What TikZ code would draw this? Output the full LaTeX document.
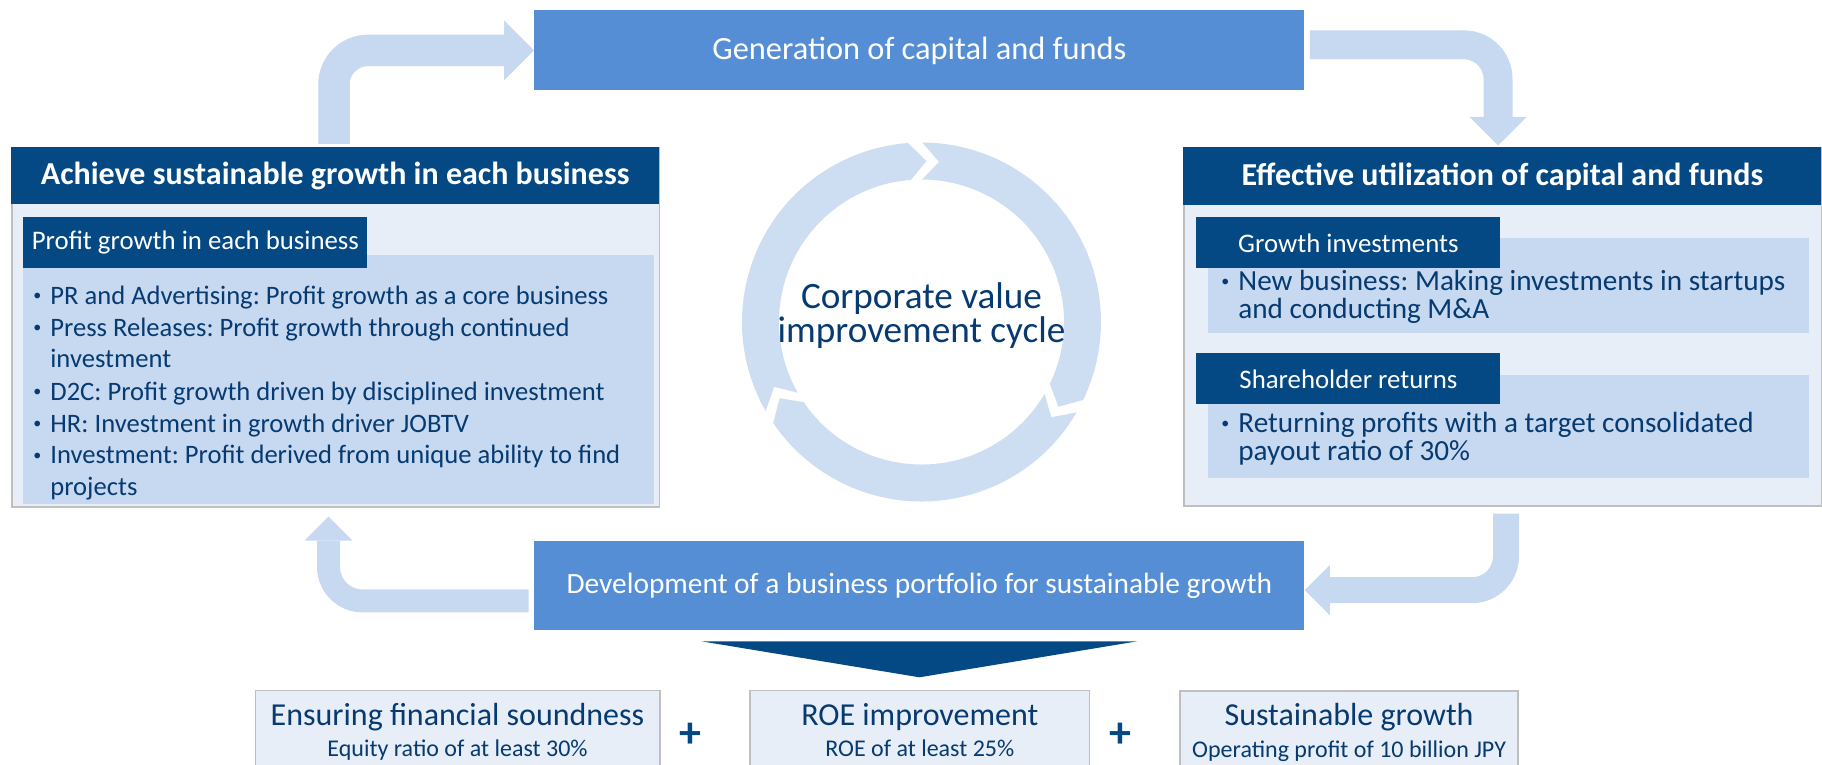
\documentclass[tikz,border=0pt]{standalone}
\usepackage{fontspec}
\setmainfont{Carlito}
\usetikzlibrary{calc,positioning}
\definecolor{midblue}{RGB}{85,142,213}
\definecolor{navy}{RGB}{4,72,132}
\definecolor{pale}{RGB}{198,217,241}
\definecolor{paler}{RGB}{231,238,247}
\definecolor{frame}{RGB}{191,191,191}
\definecolor{ringblue}{RGB}{205,222,242}
\definecolor{ink}{RGB}{6,58,112}
\hyphenpenalty=10000
\frenchspacing
\tikzset{
  stage/.style={fill=midblue,text=white,anchor=north west,inner sep=0pt,
    minimum width=385pt,minimum height=#1,font=\fontsize{14.7}{17}\selectfont},
  panel/.style={fill=paler,draw=frame,line width=0.8pt,anchor=north west,inner sep=0pt},
  banner/.style={fill=navy,text=white,anchor=north west,inner sep=0pt,
    font=\bfseries\fontsize{16}{19}\selectfont},
  tabbox/.style={fill=navy,text=white,anchor=north west,inner sep=0pt,
    minimum height=25.5pt,font=\fontsize{13.4}{16}\selectfont},
  sheet/.style={fill=pale,anchor=north west,inner sep=0pt},
  bullets/.style={text=ink,anchor=base west,inner sep=0pt,align=flush left},
  goal/.style={fill=paler,draw=frame,line width=0.8pt,anchor=north west,inner sep=0pt,
    minimum height=40pt},
  goaltitle/.style={text=ink,anchor=base,inner sep=0pt,font=\fontsize{16}{19}\selectfont},
  goalsub/.style={text=ink,anchor=base,inner sep=0pt,font=\fontsize{12}{15}\selectfont},
  plus/.style={text=navy,font=\bfseries\fontsize{22}{22}\selectfont,inner sep=0pt},
  bentflow/.style={draw=pale,line width=#1,rounded corners=17pt},
  pics/fathead/.style={code={
    \fill[pale] (0,0) -- (-#1,#1) -- (-#1,-#1) -- cycle;
  }},
}
\newcommand{\bul}[1]{\hangindent=8.5pt\hangafter=1\noindent
  \makebox[8.5pt][l]{\raisebox{0.25ex}{\fontsize{8}{8}\selectfont\textbullet}}#1\par}

\begin{document}
\begin{tikzpicture}[x=0.5pt,y=0.5pt]
  \useasboundingbox (0,0) rectangle (1822,-765);

  % cycle in the middle
  \coordinate (hub) at (921.5,-322);
  \foreach \s in {89.75,-30.25,-150.25}{
    \pgfmathsetmacro\e{\s-115.5}
    \fill[ringblue] ($(hub)+(\s:89.75pt)$) arc[start angle=\s,end angle=\e,radius=89.75pt]
      -- ($(hub)+({\e-6}:80.5pt)$) -- ($(hub)+(\e:71.25pt)$)
      arc[start angle=\e,end angle=\s,radius=71.25pt]
      -- ($(hub)+({\s-6}:80.5pt)$) -- cycle;
  }
  \node[text=ink,align=center,font=\fontsize{18.6}{17}\selectfont] (core) at ($(hub)+(0,6)$)
    {Corporate value\\improvement cycle};

  % top and bottom stages
  \node[stage=40pt,font=\fontsize{16.2}{19}\selectfont] (gen) at (534,-10) {Generation of capital and funds};
  \node[stage=44.25pt] (dev) at (534,-541) {Development of a business portfolio for sustainable growth};

  % left panel
  \node[panel,minimum width=323.75pt,minimum height=179.5pt] (left) at (11,-147) {};
  \node[banner,minimum width=323.75pt,minimum height=28.5pt] (lefthead) at (left.north west)
    {Achieve sustainable growth in each business};
  \node[sheet,minimum width=315.5pt,minimum height=124.5pt] (leftsheet) at (23,-255) {};
  \node[tabbox,minimum width=172pt] (lefttab) at (23,-217) {Profit growth in each business};
  \node[bullets,text width=306pt,font=\fontsize{13.3}{16}\selectfont] (leftlist) at (33,-304) {%
    \bul{PR and Advertising: Profit growth as a core business}
    \bul{Press Releases: Profit growth through continued investment}
    \bul{D2C: Profit growth driven by disciplined investment}
    \bul{HR: Investment in growth driver JOBTV}
    \bul{Investment: Profit derived from unique ability to find projects}};

  % right panel
  \node[panel,minimum width=319pt,minimum height=179pt] (right) at (1183,-147) {};
  \node[banner,minimum width=319pt,minimum height=29pt] (righthead) at (right.north west)
    {Effective utilization of capital and funds};
  \node[sheet,minimum width=300.5pt,minimum height=47.5pt] (growsheet) at (1208,-238) {};
  \node[tabbox,minimum width=152pt] (growtab) at (1196,-217) {Growth investments};
  \node[bullets,text width=292pt,font=\fontsize{14.6}{14}\selectfont] (growlist) at (1221,-290)
    {\bul{New business: Making investments in startups and conducting M\&A}};
  \node[sheet,minimum width=300.5pt,minimum height=51.5pt] (retsheet) at (1208,-375) {};
  \node[tabbox,minimum width=152pt] (rettab) at (1196,-353) {Shareholder returns};
  \node[bullets,text width=292pt,font=\fontsize{14.6}{14}\selectfont] (retlist) at (1221,-432)
    {\bul{Returning profits with a target consolidated payout ratio of 30\%}};

  % bent arrows of the cycle
  \draw[bentflow=15.75pt] ($(left.north west)+(323,3)$) |- ($(gen.west)+(-30,0)$);
  \pic at (gen.west) {fathead=30};
  \draw[bentflow=14.5pt] ($(gen.east)+(5,5.5)$) -| ($(right.north west)+(315,30)$);
  \pic[rotate=-90] at ($(right.north west)+(315,1.5)$) {fathead=28.5};
  \draw[bentflow=13pt] ($(right.south west)+(323,-7)$) |- ($(dev.east)+(25,-4.5)$);
  \pic[rotate=180] at ($(dev.east)+(0,-4.5)$) {fathead=25};
  \draw[bentflow=11.5pt] ($(dev.west)+(-5.5,-15.25)$) -| ($(left.south west)+(317.5,-33)$);
  \pic[rotate=90] at ($(left.south west)+(317.5,-9)$) {fathead=24};

  % results
  \fill[navy] ($(dev.south)+(-218,-11)$) -- ($(dev.south)+(218,-11)$) -- ($(dev.south)+(0,-47)$) -- cycle;
  \node[goal,minimum width=202.25pt] (g1) at (254.5,-689.5) {};
  \node[goal,minimum width=169.6pt] (g2) at (749.4,-689.5) {};
  \node[goal,minimum width=169pt] (g3) at (1179.3,-690) {};
  \node[goaltitle] (g1t) at ($(g1.north)+(0,-35.5)$) {Ensuring financial soundness};
  \node[goalsub] (g1s) at ($(g1.north)+(0,-67)$) {Equity ratio of at least 30\%};
  \node[goaltitle] (g2t) at ($(g2.north)+(0,-35.5)$) {ROE improvement};
  \node[goalsub] (g2s) at ($(g2.north)+(0,-67)$) {ROE of at least 25\%};
  \node[goaltitle] (g3t) at ($(g3.north)+(0,-35.5)$) {Sustainable growth};
  \node[goalsub] (g3s) at ($(g3.north)+(0,-67)$) {Operating profit of 10 billion JPY};
  \node[plus] (p1) at (690.8,-735) {+};
  \node[plus] (p2) at (1120.6,-735) {+};
\end{tikzpicture}
\end{document}
